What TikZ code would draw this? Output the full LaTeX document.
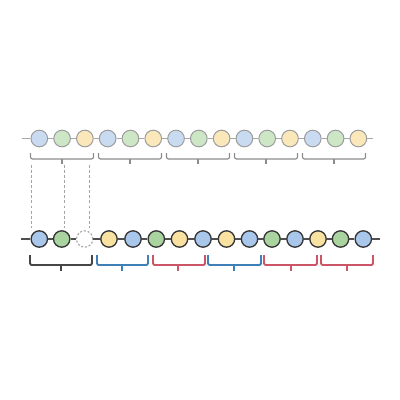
\documentclass[tikz,border=0pt]{standalone}
\definecolor{tB}{HTML}{C8DBF1}
\definecolor{tG}{HTML}{CDE6C6}
\definecolor{tY}{HTML}{FBE8BA}
\definecolor{tstroke}{HTML}{9C9C9C}
\definecolor{tline}{HTML}{A8A8A8}
\definecolor{cB}{HTML}{A8C7EB}
\definecolor{cG}{HTML}{A9D4A0}
\definecolor{cY}{HTML}{F9E1A2}
\definecolor{bstroke}{HTML}{363636}
\definecolor{bline}{HTML}{505050}
\definecolor{brgray}{HTML}{8C8C8C}
\definecolor{brdark}{HTML}{454545}
\definecolor{brblue}{HTML}{3F7FB8}
\definecolor{brred}{HTML}{CC5566}
\definecolor{dashgray}{HTML}{A5A5A5}
\newcommand\mybrace[7]{%
  \draw[#6,rounded corners=1.5pt] (#1,#4) -- (#1,#5) -- (#2,#5) -- (#2,#4);
  \draw[#6] (#3,#5) -- (#3,#5+#7);}
\begin{document}
\begin{tikzpicture}[x=0.75pt,y=-0.75pt,
  tcirc/.style={circle,draw=tstroke,line width=0.75pt,minimum size=12.5pt,inner sep=0pt},
  bcirc/.style={circle,draw=bstroke,line width=1pt,minimum size=12.3pt,inner sep=0pt},
  bB/.style={bcirc,fill=cB},
  bG/.style={bcirc,fill=cG},
  bY/.style={bcirc,fill=cY},
  bW/.style={circle,draw=dashgray,dash pattern=on 1.6pt off 1.3pt,line width=0.85pt,minimum size=12.3pt,inner sep=0pt,fill=white},
  topline/.style={draw=tline,line width=0.9pt},
  botline/.style={draw=bline,line width=1.4pt},
  tbr/.style={draw=brgray,line width=0.9pt},
  kbr/.style={draw=brdark,line width=1pt},
  ubr/.style={draw=brblue,line width=1pt},
  rbr/.style={draw=brred,line width=1pt},
  guide/.style={draw=dashgray,line width=1pt,dash pattern=on 2.2pt off 1.6pt}]
\useasboundingbox (0,0) rectangle (400,400);
% top row
\coordinate (ts) at (21.7,138.5);
\coordinate (te) at (373.3,138.5);
\foreach \c [count=\i] in {B,G,Y,B,G,Y,B,G,Y,B,G,Y,B,G,Y}
  \node[tcirc,fill=t\c] (t\i) at ({39.3+22.79*(\i-1)},138.5) {};
% bottom row
\coordinate (bs) at (21,239);
\coordinate (be) at (380,239);
\foreach \x/\s [count=\i] in {39.3/bB,61.7/bG,84.7/bW,109/bY,133/bB,156.3/bG,179.5/bY,203/bB,226.5/bY,249.5/bB,272/bG,295/bB,318/bY,340.5/bG,363.3/bB}
  \node[style=\s] (b\i) at (\x,239) {};
% connectors
\draw[topline] (ts) -- (t1);
\draw[topline] (t15) -- (te);
\foreach \i [evaluate=\i as \j using int(\i+1)] in {1,...,14}
  \draw[topline] (t\i) -- (t\j);
\draw[botline] (bs) -- (b1);
\draw[botline] (b15) -- (be);
\foreach \i [evaluate=\i as \j using int(\i+1)] in {1,...,14}
  \draw[botline] (b\i) -- (b\j);
% top braces
\foreach \k in {0,...,4}
  \mybrace{30.5+68*\k}{93.5+68*\k}{62+68*\k}{153}{159}{tbr}{4.5}
% bottom braces
\mybrace{30}{92}{61}{255}{265}{kbr}{5.5}
\mybrace{97}{148}{122}{255}{265}{ubr}{5.5}
\mybrace{153}{205}{178}{255}{265}{rbr}{5.5}
\mybrace{208}{261}{234}{255}{265}{ubr}{5.5}
\mybrace{264}{317}{291}{255}{265}{rbr}{5.5}
\mybrace{321}{373}{347}{255}{265}{rbr}{5.5}
% dashed guides
\coordinate (g1a) at (31.7,165);  \coordinate (g1b) at (31.7,228);
\coordinate (g2a) at (64.3,165);  \coordinate (g2b) at (64.3,228);
\coordinate (g3a) at (89.3,165);  \coordinate (g3b) at (89.3,228);
\draw[guide] (g1a) -- (g1b);
\draw[guide] (g2a) -- (g2b);
\draw[guide] (g3a) -- (g3b);
\end{tikzpicture}
\end{document}
